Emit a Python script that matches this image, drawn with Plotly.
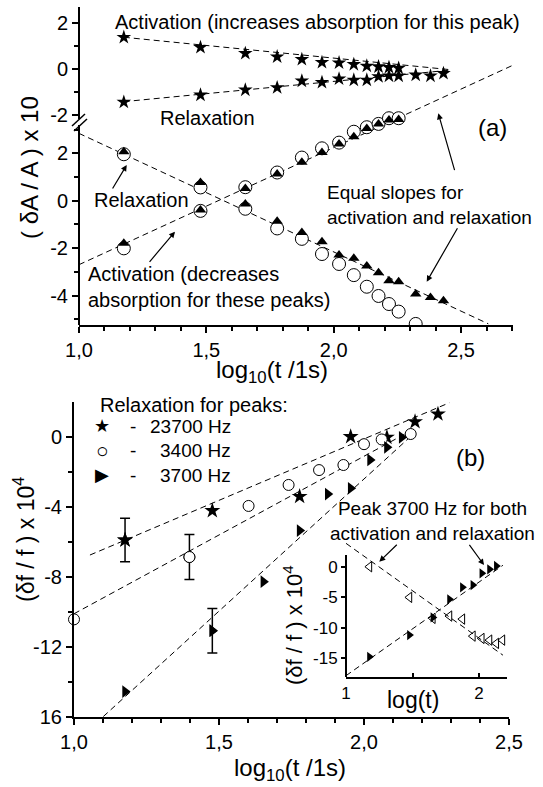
import plotly.graph_objects as go

W, H = 543, 787
def PX(x): return x / W
def PY(y): return 1 - y / H

# ---------------- data: panel (a) ----------------
t_a = [1.176, 1.477, 1.653, 1.778, 1.875, 1.954, 2.021, 2.079, 2.130, 2.176, 2.217, 2.255, 2.322, 2.380, 2.431]
star_act = [1.38, 0.94, 0.68, 0.53, 0.42, 0.29, 0.27, 0.20, 0.13, 0.10, 0.07, 0.04]
star_rel = [-1.44, -1.13, -0.91, -0.81, -0.52, -0.58, -0.43, -0.48, -0.48, -0.33, -0.30, -0.30, -0.26, -0.30, -0.19]
rel_circ = [1.96, 0.56, -0.34, -1.17, -1.61, -2.25, -2.67, -3.14, -3.63, -4.02, -4.36, -4.68, -5.20]
rel_tri = [2.07, 0.77, -0.14, -0.87, -1.34, -1.73, -2.29, -2.43, -2.76, -3.04, -3.38, -3.42, -3.94, -4.08, -4.22]
act_circ = [-2.01, -0.43, 0.57, 1.19, 1.82, 2.21, 2.45, 2.91, 3.10, 3.24, 3.48, 3.48]
act_tri = [-1.80, -0.39, 0.52, 1.13, 1.62, 2.03, 2.39, 2.70, 3.05, 3.24, 3.41, 3.43]
# fitted dashed lines: (value at x=1, slope, x start, x end)
fit_star_act = (1.574, -1.10, 1.176, 2.457)
fit_star_rel = (-1.608, 1.07, 1.176, 2.457)
fit_low_rel = (2.84, -5.00, 1.0, 2.607)
fit_low_act = (-2.70, 4.94, 1.0, 2.704)

# ---------------- data: panel (b) ----------------
t_b_star = [1.176, 1.477, 1.778, 1.954, 2.079, 2.176, 2.255]
star_b = [-5.89, -4.21, -3.40, 0.02, -0.02, 0.87, 1.31]
t_b_circ = [1.000, 1.398, 1.602, 1.740, 1.845, 1.929, 2.000, 2.061, 2.161]
circ_b = [-10.42, -6.86, -3.94, -2.74, -1.89, -1.60, -0.41, -0.14, 0.17]
t_b_tri = [1.176, 1.477, 1.653, 1.778, 1.875, 1.954, 2.021, 2.079, 2.130]
tri_b = [-14.55, -11.07, -8.27, -5.35, -3.26, -2.93, -1.31, -0.59, -0.02]
err_star = (0, 1.24)   # (index, error)
err_circ = (1, 1.29)
err_tri = (1, 1.27)
fit_b_star = (-7.13, 7.02, 1.055, 2.294)
fit_b_circ = (-10.10, 9.00, 1.0, 2.18)
fit_b_tri = (-17.50, 15.10, 1.101, 2.17)
legend_labels = ["23700 Hz", "3400 Hz", "3700 Hz"]
legend_glyphs = ["\u2605", "\u25cb", "\u25b6"]

# ---------------- data: inset ----------------
t_in_open = [1.176, 1.477, 1.653, 1.778, 1.875, 1.954, 2.021, 2.079, 2.130, 2.176, 2.217]
open_in = [0.05, -4.99, -8.45, -8.07, -8.57, -11.37, -11.75, -12.03, -12.57, -12.03, -13.67]
t_in_fill = [1.176, 1.477, 1.653, 1.778, 1.875, 1.954, 2.021, 2.079, 2.130]
fill_in = [-14.78, -11.20, -8.29, -5.32, -3.34, -2.97, -1.04, -0.38, 0.16]
fit_in_open = (3.90, -15.6, 1.0, 2.18)
fit_in_fill = (-17.88, 15.4, 1.0, 2.18)

FONT = "Liberation Sans, Arial, Helvetica, sans-serif"
DASH = "6px,4px"

fig = go.Figure()

def fit_line(fit, xa, ya):
    b, m, x0, x1 = fit
    fig.add_trace(go.Scatter(x=[x0, x1], y=[b + m * (x0 - 1), b + m * (x1 - 1)], mode="lines",
                             line=dict(color="black", width=1, dash=DASH), xaxis=xa, yaxis=ya,
                             showlegend=False, hoverinfo="skip"))

def pts(x, y, xa, ya, symbol, size, fill="black", lw=0, clip=True):
    fig.add_trace(go.Scatter(x=x, y=y, mode="markers", xaxis=xa, yaxis=ya,
                             showlegend=False, cliponaxis=clip,
                             marker=dict(symbol=symbol, size=size, color=fill,
                                         line=dict(color="black", width=lw))))

# panel (a) upper
fit_line(fit_star_act, "x", "y")
fit_line(fit_star_rel, "x", "y")
pts(t_a[:len(star_act)], star_act, "x", "y", "star", 11)
pts(t_a[:len(star_rel)], star_rel, "x", "y", "star", 11)
# panel (a) lower
fit_line(fit_low_rel, "x", "y2")
fit_line(fit_low_act, "x", "y2")
pts(t_a[:len(rel_circ)], rel_circ, "x", "y2", "circle", 13, fill="white", lw=1)
pts(t_a[:len(act_circ)], act_circ, "x", "y2", "circle", 13, fill="white", lw=1)
pts(t_a[:len(rel_tri)], rel_tri, "x", "y2", "triangle-up", 10)
pts(t_a[:len(act_tri)], act_tri, "x", "y2", "triangle-up", 10)

# panel (b)
fit_line(fit_b_star, "x3", "y3")
fit_line(fit_b_circ, "x3", "y3")
fit_line(fit_b_tri, "x3", "y3")
pts(t_b_star, star_b, "x3", "y3", "star", 12, clip=False)
pts(t_b_circ, circ_b, "x3", "y3", "circle", 11, fill="white", lw=1, clip=False)
pts(t_b_tri, tri_b, "x3", "y3", "triangle-right", 11, clip=False)

def errpt(xs, ys, e, symbol, size, fill, lw):
    i, err = e
    fig.add_trace(go.Scatter(x=[xs[i]], y=[ys[i]], mode="markers", xaxis="x3", yaxis="y3", showlegend=False,
                             cliponaxis=False,
                             marker=dict(symbol=symbol, size=size, color=fill, line=dict(color="black", width=lw)),
                             error_y=dict(type="data", array=[err], color="black", thickness=1.5, width=5)))

errpt(t_b_star, star_b, err_star, "star", 12, "black", 0)
errpt(t_b_circ, circ_b, err_circ, "circle", 11, "white", 1)
errpt(t_b_tri, tri_b, err_tri, "triangle-right", 11, "black", 0)

# inset
fit_line(fit_in_open, "x4", "y4")
fit_line(fit_in_fill, "x4", "y4")
pts(t_in_open, open_in, "x4", "y4", "triangle-left-open", 9, lw=1, clip=False)
pts(t_in_fill, fill_in, "x4", "y4", "triangle-right", 9, clip=False)

tickfont = dict(size=20, color="black", family=FONT)
common = dict(showgrid=False, zeroline=False, ticks="outside", tickcolor="black", tickwidth=1.5,
              ticklen=6, tickmode="array", tickfont=tickfont, automargin=False)

def minor(vals, ticks="outside", ln=4):
    return dict(tickmode="array", tickvals=vals, ticks=ticks, ticklen=ln, tickwidth=1.5,
                tickcolor="black", showgrid=False)

dom_a_y = [PY(325), PY(7)]
fig.update_layout(
    width=W, height=H, margin=dict(l=0, r=0, t=0, b=0, autoexpand=False),
    paper_bgcolor="white", plot_bgcolor="white", showlegend=False,
    font=dict(family=FONT, color="black", size=20),
    xaxis=dict(domain=[PX(79), PX(513)], range=[1.0, 1.0 + (513 - 79) / 254.7], anchor="y2",
               showline=True, linecolor="black", linewidth=2,
               tickvals=[1.0, 1.5, 2.0, 2.5], ticktext=["1,0", "1,5", "2,0", "2,5"],
               minor=minor([1.1, 1.2, 1.3, 1.4, 1.6, 1.7, 1.8, 1.9, 2.1, 2.2, 2.3, 2.4, 2.6, 2.7]), **common),
    yaxis=dict(domain=dom_a_y, range=[(69 - 325) / 23.0, (69 - 7) / 23.0], anchor="x", showline=False,
               tickvals=[2, 0, -2], ticktext=["2", "0", "-2"], minor=minor([1, -1]), **common),
    yaxis2=dict(domain=dom_a_y, range=[(200.7 - 325) / 23.7, (200.7 - 7) / 23.7], anchor="x",
                overlaying="y", showline=False,
                tickvals=[2, 0, -2, -4], ticktext=["2", "0", "-2", "-4"], minor=minor([3, 1, -1, -3, -5]), **common),
    xaxis3=dict(domain=[PX(74), PX(509)], range=[1.0, 2.5], anchor="y3",
                showline=True, linecolor="black", linewidth=2,
                tickvals=[1.0, 1.5, 2.0, 2.5], ticktext=["1,0", "1,5", "2,0", "2,5"],
                minor=minor([1.1, 1.2, 1.3, 1.4, 1.6, 1.7, 1.8, 1.9, 2.1, 2.2, 2.3, 2.4]), **common),
    yaxis3=dict(domain=[PY(717), PY(402)], range=[-16, 2], anchor="x3",
                showline=True, linecolor="black", linewidth=2,
                tickvals=[0, -4, -8, -12, -16], ticktext=["0", "-4", "-8", "-12", "16"],
                minor=minor([-2, -6, -10, -14]), **common),
    xaxis4=dict(domain=[PX(346), PX(507)], range=[1.0, 1.0 + (507 - 346) / 133.0], anchor="y4",
                showline=True, linecolor="black", linewidth=2, showgrid=False, zeroline=False, automargin=False,
                tickmode="array", tickvals=[1, 2], ticktext=["1", "2"], ticks="inside", ticklen=4,
                tickwidth=1.5, tickcolor="black", tickfont=dict(size=17, color="black", family=FONT),
                minor=minor([1.5], ticks="inside", ln=4)),
    yaxis4=dict(domain=[PY(677), PY(540)], range=[-18.1, 4.45], anchor="x4", showline=False, automargin=False,
                showgrid=False, zeroline=False, tickmode="array", tickvals=[0, -5, -10, -15],
                ticktext=["0", "-5", "-10", "-15"], ticks="outside", ticklen=4, tickwidth=1.5,
                tickcolor="black", tickfont=dict(size=17, color="black", family=FONT)),
)

# spines drawn as shapes (broken axis in panel a, partial spine in inset)
def seg(x0, y0, x1, y1, w=2):
    fig.add_shape(type="line", xref="paper", yref="paper", x0=PX(x0), y0=PY(y0), x1=PX(x1), y1=PY(y1),
                  line=dict(color="black", width=w))

seg(79, 7, 79, 119)
seg(79, 125, 79, 325)
seg(72, 126, 85, 114, 1.5)
seg(74, 131, 87, 119, 1.5)
seg(346, 555, 346, 677)

def text(t, x, y, size=20, xa="left", ya="middle", angle=0, align="left"):
    fig.add_annotation(text=t, x=PX(x), y=PY(y), xref="paper", yref="paper", showarrow=False,
                       xanchor=xa, yanchor=ya, textangle=angle, align=align,
                       font=dict(size=size, color="black", family=FONT))

def arrow(tx, ty, hx, hy):
    fig.add_annotation(text="", x=PX(hx), y=PY(hy), xref="paper", yref="paper", ax=tx - hx, ay=ty - hy,
                       showarrow=True, arrowhead=2, arrowsize=1, arrowwidth=1.2, arrowcolor="black",
                       standoff=0, startstandoff=0)

# panel (a) texts
text("Activation (increases absorption for this peak)", 113, 22)
text("Relaxation", 158, 118)
text("(a)", 492, 127, size=24, xa="center")
text("Relaxation", 92, 200)
text("Activation (decreases<br>absorption for these peaks)", 86, 287)
text("Equal slopes for<br>activation and relaxation", 325, 205, size=19)
text("log<sub>10</sub>(t /1s)", 272, 371, size=24, xa="center")
text("( δA / A ) x 10", 29, 168, size=24, xa="center", angle=-90)
arrow(111.7, 190, 126.7, 165)
arrow(148.3, 263.3, 175, 231.7)
arrow(455, 171.7, 438.3, 113.3)
arrow(458.3, 226.7, 426.7, 281.7)

# panel (b) texts
text("Relaxation for peaks:", 98, 405)
for k, (g, lab) in enumerate(zip(legend_glyphs, legend_labels)):
    yy = 426 + 24.5 * k
    text(g, 102, yy, size=18 if k != 1 else 21, xa="center")
    text("-", 133, yy, size=19, xa="center")
    text(lab, 233, yy, size=19, xa="right")
text("(b)", 470, 457, size=24, xa="center")
text("Peak 3700 Hz for both<br>activation and relaxation", 432, 521, size=19, xa="center", align="center")
arrow(398.3, 543.3, 379.3, 561.7)
arrow(468.3, 543.3, 484, 565)
text("log(t)", 413, 700, size=23, xa="center")
text("(δf / f ) x 10<sup>4</sup>", 24, 540, size=23, xa="center", angle=-90)
text("(δf / f ) x 10<sup>4</sup>", 293, 625, size=22, xa="center", angle=-90)
text("log<sub>10</sub>(t /1s)", 290, 769, size=24, xa="center")

fig.write_html("out.html", config={"displayModeBar": False},
               post_script="document.body.style.margin='0px';")
